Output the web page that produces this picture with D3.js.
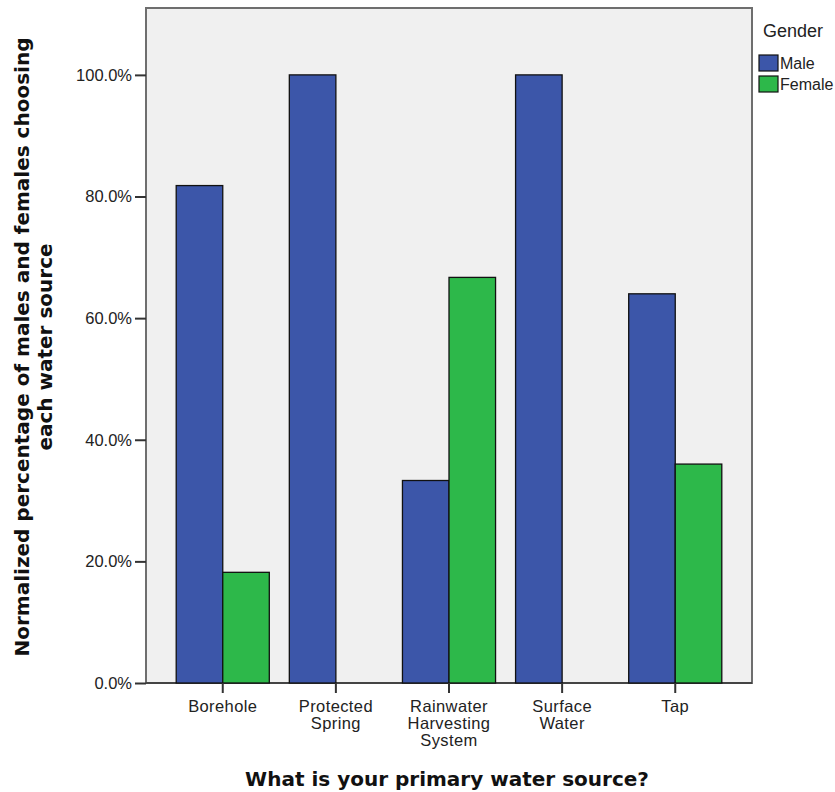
<!DOCTYPE html>
<html><head><meta charset="utf-8">
<script src="https://cdn.jsdelivr.net/npm/d3@7"></script>
<style>body{margin:0;background:#fff}svg{display:block}</style>
</head><body>
<svg id="c" width="835" height="792"></svg>
<script>
const categories = [["Borehole"],["Protected","Spring"],["Rainwater","Harvesting","System"],["Surface","Water"],["Tap"]];
const categoryKeys = ["Borehole","Protected Spring","Rainwater Harvesting System","Surface Water","Tap"];
const genders = ["Male","Female"];
const maleValues = [81.8, 100, 33.3, 100, 64.0];
const femaleValues = [18.2, 0, 66.7, 0, 36.0];
const yTicks = [0, 20, 40, 60, 80, 100];
const colors = ["#3c56a9", "#2db84a"];

const svg = d3.select("#c");
const L = 146, R = 752, T = 8, B = 683;
const font = "'Liberation Sans', Arial, sans-serif";
const boldFont = "'DejaVu Sans', Verdana, sans-serif";

const x = d3.scaleBand().domain(categoryKeys).range([L, R]).paddingInner(0.177).paddingOuter(0.267);
const xg = d3.scaleBand().domain(genders).range([0, x.bandwidth()]);
const y = d3.scaleLinear().domain([0, 111]).range([B, T]);

svg.append("rect").attr("x", L).attr("y", T).attr("width", R - L).attr("height", B - T)
  .attr("fill", "#f0f0f0");

svg.append("rect").attr("x", L).attr("y", T).attr("width", R - L).attr("height", B - T)
  .attr("fill", "none").attr("stroke", "#6e6e6e").attr("stroke-width", 2);
svg.append("line").attr("x1", L).attr("x2", R).attr("y1", B).attr("y2", B).attr("stroke", "#444").attr("stroke-width", 2);

const series = [maleValues, femaleValues];
categoryKeys.forEach((c, i) => {
  genders.forEach((g, j) => {
    const v = series[j][i];
    svg.append("rect")
      .attr("x", x(c) + xg(g)).attr("y", y(v))
      .attr("width", xg.bandwidth()).attr("height", y(0) - y(v))
      .attr("fill", colors[j]).attr("stroke", "#111").attr("stroke-width", 1.3);
  });
});

const yAxis = svg.append("g").attr("transform", `translate(${L},0)`)
  .call(d3.axisLeft(y).tickValues(yTicks).tickSize(11).tickFormat(d => d.toFixed(1) + "%"));
yAxis.select(".domain").remove();
yAxis.selectAll("line").attr("stroke", "#333").attr("stroke-width", 2);
yAxis.selectAll("text").attr("font-family", font).attr("font-size", 16.5).attr("fill", "#222").attr("x", -14);

const xAxis = svg.append("g").attr("transform", `translate(0,${B})`)
  .call(d3.axisBottom(x).tickSize(10).tickFormat(""));
xAxis.select(".domain").remove();
xAxis.selectAll("line").attr("stroke", "#333").attr("stroke-width", 2);
xAxis.selectAll(".tick").each(function(d, i) {
  const t = d3.select(this).append("text").attr("fill", "#222").attr("font-family", font)
    .attr("font-size", 16.5).attr("letter-spacing", 0.4).attr("text-anchor", "middle");
  categories[i].forEach((ln, k) => t.append("tspan").attr("x", 0).attr("y", 29 + k * 17).text(ln));
});

svg.append("text").attr("x", 447).attr("y", 786).attr("text-anchor", "middle")
  .attr("font-family", boldFont).attr("font-weight", "bold").attr("font-size", 20)
  .attr("fill", "#111").text("What is your primary water source?");

const yt = svg.append("text").attr("transform", "rotate(-90)")
  .attr("text-anchor", "middle").attr("font-family", boldFont)
  .attr("font-weight", "bold").attr("font-size", 20).attr("fill", "#111");
yt.append("tspan").attr("x", -347).attr("y", 29).text("Normalized percentage of males and females choosing");
yt.append("tspan").attr("x", -347).attr("y", 52).text("each water source");

svg.append("text").attr("x", 763).attr("y", 37).attr("font-family", font).attr("font-size", 18)
  .attr("fill", "#222").text("Gender");
genders.forEach((g, j) => {
  svg.append("rect").attr("x", 759).attr("y", 55 + j * 21).attr("width", 19).attr("height", 16)
    .attr("fill", colors[j]).attr("stroke", "#111").attr("stroke-width", 1.2);
  svg.append("text").attr("x", 780).attr("y", 69 + j * 21).attr("font-family", font).attr("font-size", 16)
    .attr("fill", "#222").text(g);
});
</script>
</body></html>
